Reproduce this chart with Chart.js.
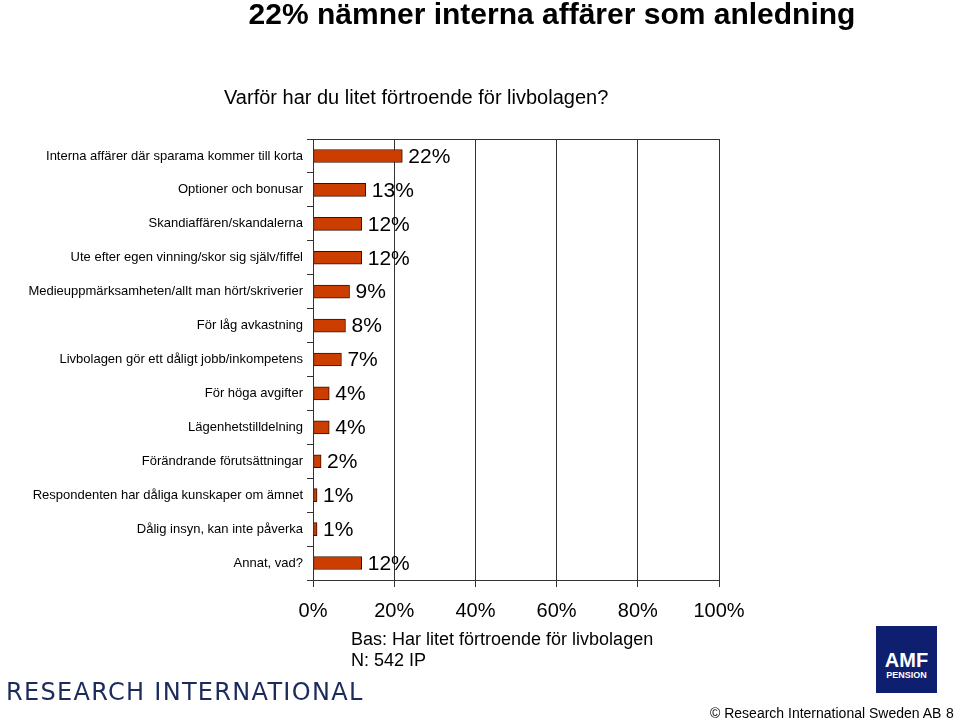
<!DOCTYPE html>
<html><head><meta charset="utf-8">
<script src="https://cdn.jsdelivr.net/npm/chart.js@4"></script>
<style>
body{margin:0;width:960px;height:720px;position:relative;background:#fff;font-family:"Liberation Sans",Arial,sans-serif;overflow:hidden}
.t{position:absolute;white-space:nowrap;color:#000}
#c{position:absolute;left:0;top:0}
</style></head><body>
<canvas id="c" width="960" height="720"></canvas>
<div class="t" style="left:0;width:1104px;text-align:center;top:-3px;font-size:30px;font-weight:bold">22% nämner interna affärer som anledning</div>
<div class="t" style="left:224px;top:86px;font-size:20px">Varför har du litet förtroende för livbolagen?</div>
<div class="t" style="left:351px;top:629px;font-size:18px;line-height:21px">Bas: Har litet förtroende för livbolagen<br>N: 542 IP</div>
<div class="t" style="left:6px;top:678px;font-size:24px;letter-spacing:1.3px;color:#1c2a5c;font-family:'DejaVu Sans'">RESEARCH INTERNATIONAL</div>
<div style="position:absolute;left:876px;top:626px;width:61px;height:67px;background:#0d1f6e;color:#fff;text-align:center;font-weight:bold">
<div style="font-size:20px;margin-top:24px;line-height:20px">AMF</div><div style="font-size:9px">PENSION</div></div>
<div class="t" style="left:710px;top:705px;font-size:14px">© Research International Sweden AB</div>
<div class="t" style="left:946px;top:705px;font-size:14px">8</div>
<script>
const categories=["Interna affärer där sparama kommer till korta","Optioner och bonusar","Skandiaffären/skandalerna","Ute efter egen vinning/skor sig själv/fiffel","Medieuppmärksamheten/allt man hört/skriverier","För låg avkastning","Livbolagen gör ett dåligt jobb/inkompetens","För höga avgifter","Lägenhetstilldelning","Förändrande förutsättningar","Respondenten har dåliga kunskaper om ämnet","Dålig insyn, kan inte påverka","Annat, vad?"];
const values=[22,13,12,12,9,8,7,4,4,2,1,1,12];
const tickLabels=["0%","20%","40%","60%","80%","100%"];
const labelsPlugin={id:'lbl',afterDatasetsDraw(ch){const c=ch.ctx;const m=ch.getDatasetMeta(0);c.save();c.font='21px "Liberation Sans",Arial';c.fillStyle='#000';c.textBaseline='middle';
m.data.forEach((b,i)=>{c.fillText(values[i]+'%',b.x+6,b.y+1);});
const a=ch.chartArea;c.strokeStyle='#333';c.lineWidth=1;c.strokeRect(a.left+.5,a.top+.5,a.right-a.left,a.bottom-a.top);c.restore();}};
new Chart(document.getElementById('c'),{type:'bar',data:{labels:categories,datasets:[{data:values,backgroundColor:'#cc3d00',borderColor:'#3a1000',borderWidth:1,borderSkipped:false,barThickness:13}]},
options:{indexAxis:'y',responsive:false,animation:false,layout:{padding:{left:0,top:139,right:241,bottom:0}},
plugins:{legend:{display:false},tooltip:{enabled:false}},
scales:{x:{min:0,max:100,ticks:{stepSize:20,color:'#000',font:{size:20,family:'"Liberation Sans",Arial'},padding:12,callback:(v,i)=>tickLabels[i]},
grid:{color:'#333',tickLength:7},border:{color:'#333'},afterFit:s=>{s.height=140;}},
y:{ticks:{color:'#000',font:{size:13,family:'"Liberation Sans",Arial'},padding:4},grid:{drawOnChartArea:false,color:'#333',tickLength:6,offset:true},border:{color:'#333'},afterFit:s=>{s.width=313;}}}},
plugins:[labelsPlugin]});
</script></body></html>
